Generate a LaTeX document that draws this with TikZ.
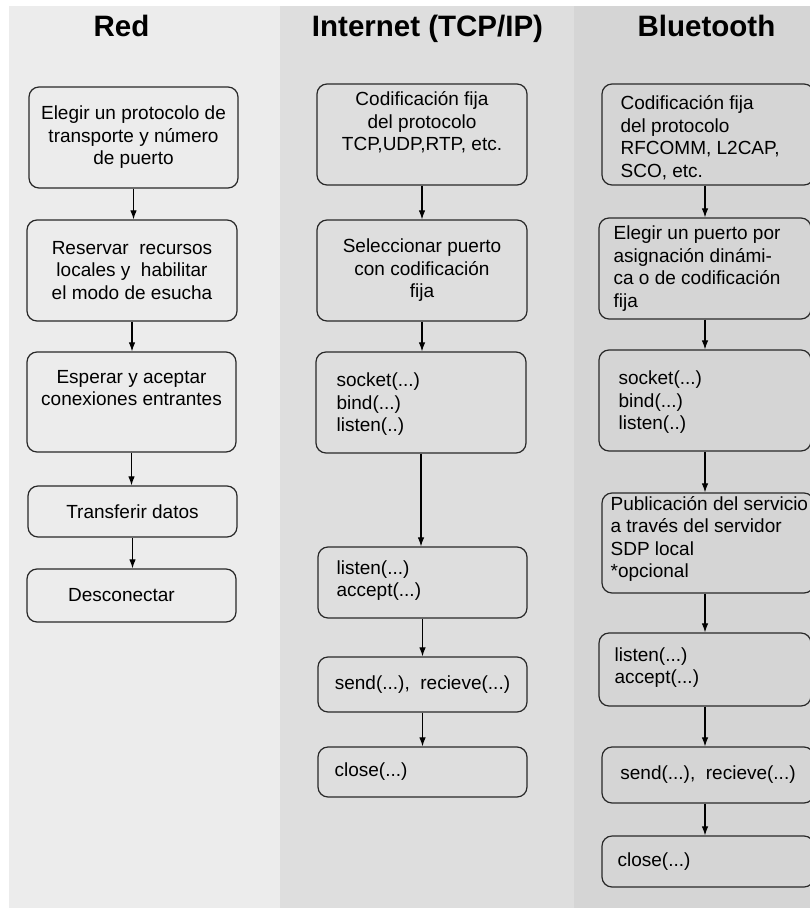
\documentclass[tikz,border=0pt]{standalone}
\usepackage{fontspec}
\setmainfont{Liberation Sans}
\usetikzlibrary{arrows.meta}

\definecolor{bgred}{RGB}{236,236,236}
\definecolor{bginet}{RGB}{222,222,222}
\definecolor{bgbt}{RGB}{213,213,213}
\definecolor{edge}{RGB}{40,40,40}

\tikzset{
  stepbox/.style={draw=edge, line width=1.2pt, rounded corners=10pt,
    inner sep=0pt, align=center,
    font=\fontsize{19}{22.5}\selectfont},
  sz/.style 2 args={minimum width=#1pt, minimum height=#2pt},
  steptext/.style={inner sep=0pt, align=left, anchor=west,
    font=\fontsize{19}{22.5}\selectfont},
  coltitle/.style={anchor=base, inner sep=0pt,
    font=\fontsize{29.5}{34}\selectfont\bfseries},
  flow/.style={draw=black, line width=1.1pt,
    -{Latex[length=9pt,width=6.5pt]}},
}

\begin{document}
\begin{tikzpicture}[x=1pt,y=-1pt]
  \useasboundingbox (0,0) rectangle (810,917);
  \clip (0,0) rectangle (810,917);

  % column backgrounds
  \fill[white] (0,0) rectangle (810,917);
  \fill[bgred]  (9,6) rectangle (280,908);
  \fill[bginet] (280,6) rectangle (574,908);
  \fill[bgbt]   (574,6) rectangle (810,908);

  % column titles
  \node[coltitle] (tred) at (121.5,37) {Red};
  \node[coltitle] (tinet) at (427.5,37) {Internet (TCP/IP)};
  \node[coltitle] (tbt) at (706.5,37) {Bluetooth};

  % ---- Red ----
  \node[stepbox, sz={209}{101}] (r1) at (133.5,137.5)
    {Elegir un protocolo de\\transporte y número\\de puerto};
  \node[stepbox, sz={210}{101}] (r2) at (132,270.5)
    {Reservar\ \ recursos\\locales y\ \ habilitar\\el modo de esucha};
  \node[stepbox, sz={209}{100}] (r3) at (131.5,402)
    {Esperar y aceptar\\conexiones entrantes\\[6pt]\mbox{}};
  \node[stepbox, sz={209}{51}] (r4) at (132.5,511.5) {Transferir datos};
  \node[stepbox, sz={209}{53}] (r5) at (131.5,595.5)
    {Desconectar\hspace*{20pt}};

  \draw[flow] (r1.south) -- (r1.south |- r2.north);
  \draw[flow] (r2.south) -- (r2.south |- r3.north);
  \draw[flow] (r3.south) -- (r3.south |- r4.north);
  \draw[flow] (r4.south) -- (r4.south |- r5.north);

  % ---- Internet (TCP/IP) ----
  \node[stepbox, sz={210}{101}] (i1) at (422,134.5)
    {Codificación fija\\del protocolo\\TCP,UDP,RTP, etc.\\[4pt]\mbox{}};
  \node[stepbox, sz={210}{101}] (i2) at (422,270.5)
    {Seleccionar puerto\\con codificación\\fija};
  \node[stepbox, sz={210}{101}] (i3) at (421,402.5) {};
  \node[steptext] (i3t) at ([xshift=21pt,yshift=-2pt]i3.west)
    {socket(...)\\bind(...)\\listen(..)};
  \node[stepbox, sz={209}{71}] (i4) at (422.5,582.5) {};
  \node[steptext] (i4t) at ([xshift=19pt,yshift=2pt]i4.west)
    {listen(...)\\accept(...)};
  \node[stepbox, sz={209}{55}] (i5) at (422.5,684.5)
    {send(...),\ \ recieve(...)};
  \node[stepbox, sz={209}{50}] (i6) at (422.5,772) {};
  \node[steptext] (i6t) at ([xshift=17pt]i6.west) {close(...)};

  \draw[flow] (i1.south) -- (i1.south |- i2.north);
  \draw[flow] (i2.south) -- (i2.south |- i3.north);
  \draw[flow] (i3.south) -- (i3.south |- i4.north);
  \draw[flow] (i4.south) -- (i4.south |- i5.north);
  \draw[flow] (i5.south) -- (i5.south |- i6.north);

  % ---- Bluetooth ----
  \node[stepbox, sz={212}{101}] (b1) at (708,134.5) {};
  \node[steptext] (b1t) at ([xshift=19pt,yshift=-3pt]b1.west)
    {Codificación fija\\del protocolo\\RFCOMM, L2CAP,\\SCO, etc.};
  \node[stepbox, sz={212}{101}] (b2) at (705,268.5) {};
  \node[steptext] (b2t) at ([xshift=15pt]b2.west)
    {Elegir un puerto por\\asignación dinámi-\\ca o de codificación\\fija};
  \node[stepbox, sz={212}{101}] (b3) at (705,400.5) {};
  \node[steptext] (b3t) at ([xshift=20pt,yshift=-2pt]b3.west)
    {socket(...)\\bind(...)\\listen(..)};
  \node[stepbox, sz={212}{100}] (b4) at (708,543) {};
  \node[steptext] (b4t) at ([xshift=9pt,yshift=4pt]b4.west)
    {Publicación del servicio\\a través del servidor\\SDP local\\*opcional};
  \node[stepbox, sz={212}{73}] (b5) at (705,669.5) {};
  \node[steptext] (b5t) at ([xshift=16pt,yshift=2pt]b5.west)
    {listen(...)\\accept(...)};
  \node[stepbox, sz={212}{56}] (b6) at (708,775)
    {send(...),\ \ recieve(...)};
  \node[stepbox, sz={212}{51}] (b7) at (708,861.5) {};
  \node[steptext] (b7t) at ([xshift=16pt]b7.west) {close(...)};

  \draw[flow] (b1.south -| b2.north) -- (b2.north);
  \draw[flow] (b2.south) -- (b3.north);
  \draw[flow] (b3.south) -- (b3.south |- b4.north);
  \draw[flow] (b4.south -| b5.north) -- (b5.north);
  \draw[flow] (b5.south) -- (b5.south |- b6.north);
  \draw[flow] (b6.south -| b5.north) -- (b5.north |- b7.north);
\end{tikzpicture}
\end{document}
